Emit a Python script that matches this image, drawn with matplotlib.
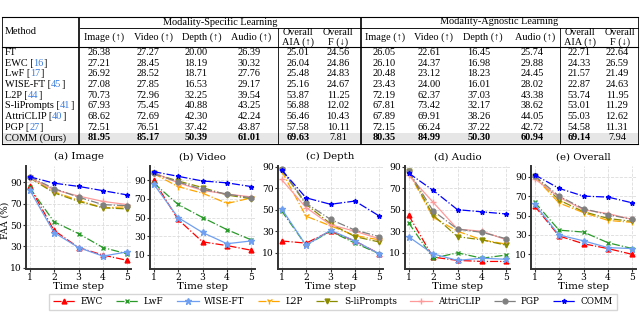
import matplotlib
matplotlib.use("Agg")
import matplotlib.pyplot as plt
from matplotlib.patches import Rectangle
from matplotlib.lines import Line2D

# ---- table data ----
table_methods = ["FT", "EWC", "LwF", "WISE-FT", "L2P", "S-liPrompts", "AttriCLIP", "PGP", "COMM (Ours)"]
table_refs = ["", "16", "17", "45", "44", "41", "40", "27", ""]
specific_rows = [
    ["26.38", "27.27", "20.00", "26.39", "25.01", "24.56"],
    ["27.21", "28.45", "18.19", "30.32", "26.04", "24.86"],
    ["26.92", "28.52", "18.71", "27.76", "25.48", "24.83"],
    ["27.08", "27.85", "16.53", "29.17", "25.16", "24.67"],
    ["70.73", "72.96", "32.25", "39.54", "53.87", "11.25"],
    ["67.93", "75.45", "40.88", "43.25", "56.88", "12.02"],
    ["68.62", "72.69", "42.30", "42.24", "56.46", "10.43"],
    ["72.51", "76.51", "37.42", "43.87", "57.58", "10.11"],
    ["81.95", "85.17", "50.39", "61.01", "69.63", "7.81"],
]
agnostic_rows = [
    ["26.05", "22.61", "16.45", "25.74", "22.71", "22.64"],
    ["26.10", "24.37", "16.98", "29.88", "24.33", "26.59"],
    ["20.48", "23.12", "18.23", "24.45", "21.57", "21.49"],
    ["23.43", "24.00", "16.01", "28.02", "22.87", "24.63"],
    ["72.19", "62.37", "37.03", "43.38", "53.74", "11.95"],
    ["67.81", "73.42", "32.17", "38.62", "53.01", "11.29"],
    ["67.89", "69.91", "38.26", "44.05", "55.03", "12.62"],
    ["72.15", "66.24", "37.22", "42.72", "54.58", "11.31"],
    ["80.35", "84.99", "50.30", "60.94", "69.14", "7.94"],
]
col_headers = ["Image (↑)", "Video (↑)", "Depth (↑)", "Audio (↑)", "Overall\nAIA (↑)", "Overall\nF (↓)"]

# ---- FAA curves (order: EWC, LwF, WISE-FT, L2P, S-liPrompts, AttriCLIP, PGP, COMM) ----
steps = [1, 2, 3, 4, 5]
methods = ["EWC", "LwF", "WISE-FT", "L2P", "S-liPrompts", "AttriCLIP", "PGP", "COMM"]
faa_image = [
    [86, 45, 29, 22, 17],
    [85, 53, 42, 29, 23],
    [83, 43, 29, 21, 25],
    [95, 81, 73, 66, 67],
    [94, 80, 72, 66, 65],
    [94, 83, 77, 72, 69],
    [95, 84, 76, 69, 68],
    [95, 89, 86, 82, 78],
]
faa_video = [
    [90, 48, 24, 20, 15],
    [87, 64, 50, 37, 26],
    [86, 50, 34, 22, 25],
    [97, 83, 76, 65, 71],
    [97, 89, 82, 74, 70],
    [98, 87, 79, 75, 72],
    [97, 88, 80, 75, 71],
    [99, 94, 89, 87, 83],
]
faa_depth = [
    [21, 19, 30, 21, 9],
    [49, 17, 30, 19, 9],
    [51, 17, 31, 21, 9],
    [86, 44, 35, 26, 22],
    [87, 55, 37, 25, 20],
    [78, 52, 36, 30, 23],
    [88, 56, 41, 31, 25],
    [87, 61, 55, 58, 44],
]
faa_audio = [
    [45, 6, 3, 2, 2],
    [38, 5, 10, 5, 8],
    [25, 9, 3, 5, 4],
    [85, 43, 30, 22, 18],
    [86, 45, 25, 22, 17],
    [82, 57, 32, 30, 22],
    [86, 49, 32, 29, 23],
    [84, 68, 50, 48, 46],
]
faa_overall = [
    [60, 29, 21, 16, 10],
    [64, 35, 33, 22, 16],
    [62, 30, 24, 17, 16],
    [90, 63, 53, 45, 43],
    [91, 66, 54, 47, 44],
    [88, 69, 56, 52, 46],
    [91, 70, 57, 51, 46],
    [92, 78, 70, 69, 63],
]
panel_titles = ["(a) Image", "(b) Video", "(c) Depth", "(d) Audio", "(e) Overall"]
panel_data = [faa_image, faa_video, faa_depth, faa_audio, faa_overall]

colors = ["red", "#2a9a2a", "#6f9ff0", "orange", "#8b8b00", "#ff9a9a", "gray", "blue"]
markers = ["^", "x", "*", "1", "v", "+", "o", "*"]
msizes = [3.5, 3.5, 4.5, 4.5, 3.5, 4.5, 3.5, 3.5]
styles = ["-.", "-.", "-", "-.", "-.", "-", "-.", "-."]

serif_tab = ["Liberation Serif", "DejaVu Serif"]
fs = 7.4

fig = plt.figure(figsize=(6.4, 3.13), dpi=100)

# ---- table drawn in pixel coordinates ----
tab = fig.add_axes([0, 0, 1, 1])
tab.set_xlim(0, 640)
tab.set_ylim(313, 0)
tab.axis("off")

row_y = [52.5 + i * 10.65 for i in range(9)]
tab.add_patch(Rectangle((2, 132.8), 636, 10.6, color="#e6e6e6", lw=0))

lw = 0.8
tab.plot([2, 638], [17, 17], color="black", lw=lw)
tab.plot([80, 638], [27.5, 27.5], color="black", lw=lw * 0.8)
tab.plot([2, 638], [47, 47], color="black", lw=lw)
tab.plot([2, 638], [143.5, 143.5], color="black", lw=lw)
for vx in [2, 77.5, 79, 278, 359.5, 361, 560, 638]:
    y0 = 27.5 if vx in (278, 560) else 17
    tab.plot([vx, vx], [y0, 143.5], color="black", lw=0.6)

tab.text(5, 32, "Method", ha="left", va="center", fontsize=fs, family=serif_tab)
tab.text(220, 22, "Modality-Specific Learning", ha="center", va="center", fontsize=fs, family=serif_tab)
tab.text(499, 22, "Modality-Agnostic Learning", ha="center", va="center", fontsize=fs, family=serif_tab)

spec_head_x = [104, 153, 202, 251, 298, 338]
spec_num_x = [99, 148, 196, 249, 298, 338]
agn_head_x = [385, 433, 483, 535, 580, 620]
agn_num_x = [384, 429, 479, 532, 579, 617]
for hx, h in zip(spec_head_x + agn_head_x, col_headers + col_headers):
    tab.text(hx, 37.5, h, ha="center", va="center", fontsize=fs, family=serif_tab,
             linespacing=0.95)

for i, (m, ref) in enumerate(zip(table_methods, table_refs)):
    y = row_y[i]
    if ref:
        t1 = tab.text(5, y, m + " [", ha="left", va="center", fontsize=fs, family=serif_tab)
        t2 = tab.annotate(ref, xy=(1, 0), xycoords=t1, ha="left", va="bottom",
                          fontsize=fs, family=serif_tab, color="#3b7ddd")
        tab.annotate("]", xy=(1, 0), xycoords=t2, ha="left", va="bottom",
                     fontsize=fs, family=serif_tab)
    else:
        tab.text(5, y, m, ha="left", va="center", fontsize=fs, family=serif_tab)
    for x, v in zip(spec_num_x, specific_rows[i]):
        tab.text(x, y, v, ha="center", va="center", fontsize=fs, family=serif_tab,
                 weight="bold" if (i == 8 and v != "7.81") else "normal")
    for x, v in zip(agn_num_x, agnostic_rows[i]):
        tab.text(x, y, v, ha="center", va="center", fontsize=fs, family=serif_tab,
                 weight="bold" if (i == 8 and v != "7.94") else "normal")

# ---- FAA line plots ----
ax_left = [26, 150, 278, 405, 531]
ax_w = 105
ax_top, ax_bot = 166, 269
ylims = [(9, 105), (-5, 105), (-5, 90.5), (-5, 90.5), (-5, 101)]
plot_font = "DejaVu Serif"

for k in range(5):
    ax = fig.add_axes([ax_left[k] / 640, 1 - ax_bot / 313, ax_w / 640, (ax_bot - ax_top) / 313])
    for j in range(len(methods)):
        ax.plot(steps, panel_data[k][j], linestyle=styles[j], color=colors[j], marker=markers[j],
                markersize=msizes[j], lw=0.9, label=methods[j])
    ax.set_xlim(0.857, 5.143)
    ax.set_ylim(*ylims[k])
    ax.set_xticks(steps)
    ax.set_yticks([10, 30, 50, 70, 90])
    ax.grid(True, linestyle="--", color="#dcdcdc", lw=0.6)
    ax.set_axisbelow(True)
    for s in ["top", "right"]:
        ax.spines[s].set_visible(False)
    for s in ["left", "bottom"]:
        ax.spines[s].set_color("#333333")
        ax.spines[s].set_linewidth(1.4)
    ax.tick_params(labelsize=6.6, length=2.0, width=0.8, pad=1.0, color="#333333")
    for lab in ax.get_xticklabels() + ax.get_yticklabels():
        lab.set_family(plot_font)
    ax.set_title(panel_titles[k], fontsize=7.4, family=plot_font, pad=5)
    ax.set_xlabel("Time step", fontsize=7.4, family=plot_font, labelpad=0)

fig.text(5 / 640, 1 - 220 / 313, "FAA (%)", rotation=90, ha="center", va="center",
         fontsize=6.5, family=plot_font)

handles = [Line2D([], [], linestyle=styles[j], color=colors[j], marker=markers[j],
                  markersize=msizes[j], lw=0.9) for j in range(len(methods))]
fig.legend(handles, methods, loc="center", bbox_to_anchor=(333 / 640, 1 - 302 / 313), ncol=8,
           prop={"family": plot_font, "size": 6.4}, frameon=True, handlelength=2.5,
           columnspacing=1.5, handletextpad=0.6, borderpad=0.4, edgecolor="#cccccc",
           fancybox=False)

fig.savefig("out.png", dpi=100)
